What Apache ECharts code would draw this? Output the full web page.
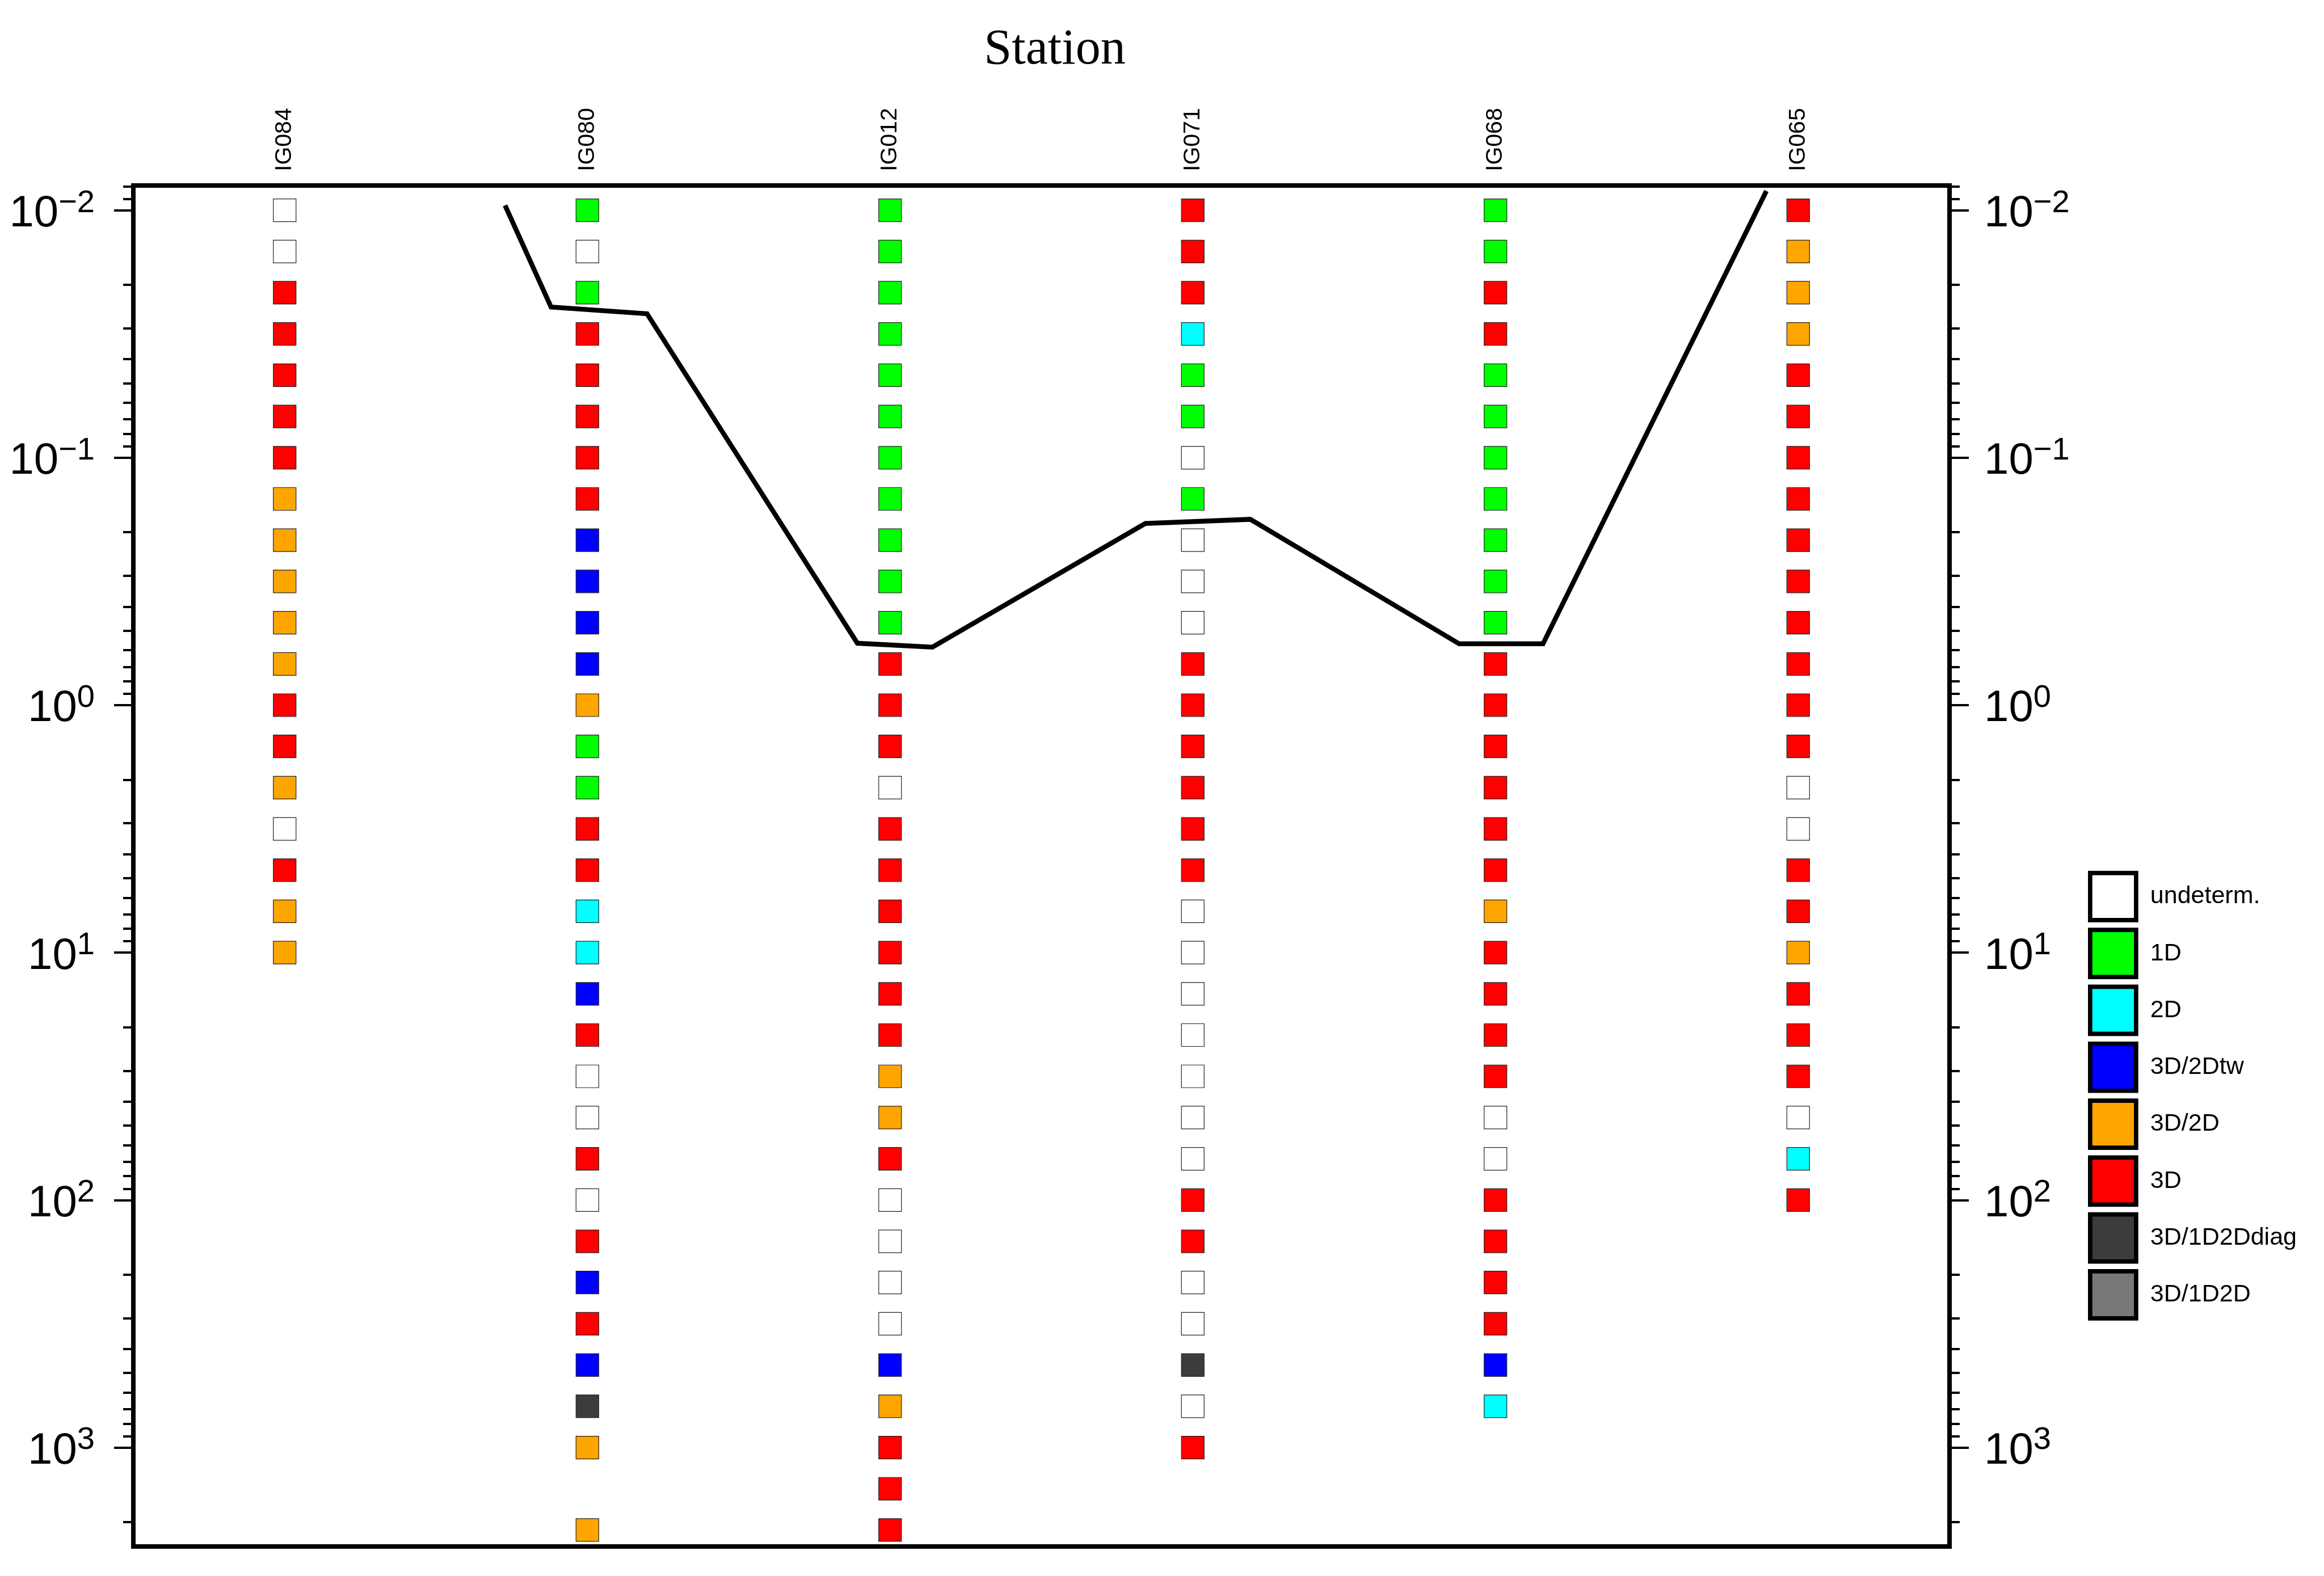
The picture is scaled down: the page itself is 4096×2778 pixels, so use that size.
<!DOCTYPE html>
<html><head><meta charset="utf-8">
<script src="https://cdn.jsdelivr.net/npm/echarts@6/dist/echarts.min.js"></script>
<style>html,body{margin:0;padding:0;background:#fff}#c{width:4096px;height:2778px}</style>
</head><body><div id="c"></div>
<script>
// ---------- data ----------
const stations = ['IG084', 'IG080', 'IG012', 'IG071', 'IG068', 'IG065'];
// periods (s) of the estimates, 6 per decade
const periods = [0.01, 0.01468, 0.02154, 0.03162, 0.04642, 0.06813,
  0.1, 0.1468, 0.2154, 0.3162, 0.4642, 0.6813,
  1, 1.468, 2.154, 3.162, 4.642, 6.813,
  10, 14.68, 21.54, 31.62, 46.42, 68.13,
  100, 146.8, 215.4, 316.2, 464.2, 681.3,
  1000, 1468, 2154];
const classNames = ['undeterm.', '1D', '2D', '3D/2Dtw', '3D/2D', '3D', '3D/1D2Ddiag', '3D/1D2D'];
const classCodes = ['u', '1', '2', 't', 'o', '3', 'd', 'g'];
const classColors = ['#ffffff', '#00ff00', '#00ffff', '#0000ff', '#ffa500', '#ff0000', '#3c3c3c', '#787878'];
// dimensionality per period index ('-' = no estimate)
const IG084 = ['u','u','3','3','3','3','3','o','o','o','o','o','3','3','o','u','3','o','o'];
const IG080 = ['1','u','1','3','3','3','3','3','t','t','t','t','o','1','1','3','3','2','2','t','3','u','u','3','u','3','t','3','t','d','o','-','o'];
const IG012 = ['1','1','1','1','1','1','1','1','1','1','1','3','3','3','u','3','3','3','3','3','3','o','o','3','u','u','u','u','t','o','3','3','3'];
const IG071 = ['3','3','3','2','1','1','u','1','u','u','u','3','3','3','3','3','3','u','u','u','u','u','u','u','3','3','u','u','d','u','3'];
const IG068 = ['1','1','3','3','1','1','1','1','1','1','1','3','3','3','3','3','3','o','3','3','3','3','u','u','3','3','3','3','t','2'];
const IG065 = ['3','o','o','o','3','3','3','3','3','3','3','3','3','3','u','u','3','3','o','3','3','3','u','2','3'];
const stationClasses = [IG084, IG080, IG012, IG071, IG068, IG065];
// black profile line (x in station units, period in s)
const lineX = [1.728, 1.880, 2.197, 2.892, 3.140, 3.843, 4.190, 4.880, 5.157, 5.895];
const linePeriod = [0.00956, 0.0246, 0.0262, 0.562, 0.583, 0.1845, 0.1774, 0.565, 0.565, 0.00836];
// axis ticks
const majorTicks = [0.01, 0.1, 1, 10, 100, 1000];
const minorTicks = [0.008, 0.009,
  0.02, 0.03, 0.04, 0.05, 0.06, 0.07, 0.08, 0.09,
  0.2, 0.3, 0.4, 0.5, 0.6, 0.7, 0.8, 0.9,
  2, 3, 4, 5, 6, 7, 8, 9,
  20, 30, 40, 50, 60, 70, 80, 90,
  200, 300, 400, 500, 600, 700, 800, 900,
  2000];
const yMin = Math.pow(10, -2.1), yMax = Math.pow(10, 3.4);

// ---------- chart ----------
const chart = echarts.init(document.getElementById('c'), null, {renderer: 'canvas'});
const SANS = '"Liberation Sans", Arial, Helvetica, sans-serif';

function expLabel(v) {
  const e = Math.round(Math.log10(v));
  return '{b|10}{s|' + (e < 0 ? '\u2212' + (-e) : String(e)) + '}';
}
const labelRich = {
  b: {fontSize: 78, lineHeight: 78, fontFamily: SANS, color: '#000', padding: [14, 0, 0, 0]},
  s: {fontSize: 56, lineHeight: 56, fontFamily: SANS, color: '#000', padding: [0, 0, 25, 0]}
};
function yAxisDef(pos, major) {
  return {
    type: 'log', logBase: 10, inverse: true, min: yMin, max: yMax, position: pos,
    axisLine: {show: false}, splitLine: {show: false}, minorTick: {show: false},
    axisTick: {show: true, inside: false, length: major ? 34 : 18,
      customValues: major ? majorTicks : minorTicks,
      lineStyle: {color: '#000', width: 4}},
    axisLabel: major ? {show: true, customValues: majorTicks, margin: pos === 'left' ? 68 : 61,
      formatter: expLabel, rich: labelRich} : {show: false}
  };
}

const series = classNames.map((name, ci) => {
  const data = [];
  stationClasses.forEach((arr, si) => {
    arr.forEach((c, k) => { if (c === classCodes[ci]) data.push([si + 1, periods[k]]); });
  });
  return {
    name: name, type: 'scatter', xAxisIndex: 1, yAxisIndex: 0,
    symbol: 'rect', symbolSize: 40, data: data,
    itemStyle: {color: classColors[ci], borderColor: '#222', borderWidth: 1.2, opacity: 1},
    emphasis: {disabled: true}, z: 3
  };
});
series.push({
  name: 'profile', type: 'line', xAxisIndex: 1, yAxisIndex: 0,
  data: lineX.map((x, i) => [x, linePeriod[i]]),
  showSymbol: false, symbol: 'none',
  lineStyle: {color: '#000', width: 8.5, join: 'miter'}, z: 4, emphasis: {disabled: true}
});

chart.setOption({
  animation: false,
  backgroundColor: '#fff',
  title: {text: 'Station', left: 1854, top: 40, textAlign: 'center',
    textStyle: {fontFamily: '"Liberation Serif", "Times New Roman", serif', fontWeight: 'normal', fontSize: 88, color: '#000'}},
  grid: {left: 235, top: 327, width: 3201, height: 2399, show: true,
    borderColor: '#000', borderWidth: 8, backgroundColor: 'transparent', containLabel: false, outerBoundsMode: 'none'},
  legend: {
    orient: 'vertical', left: 3675, top: 1530, icon: 'rect', itemWidth: 81, itemHeight: 83, itemGap: 9.6,
    selectedMode: false, data: classNames,
    itemStyle: {borderColor: '#000', borderWidth: 7.7},
    textStyle: {fontFamily: SANS, fontSize: 43, color: '#000', padding: [0, 0, 0, 20]}
  },
  xAxis: [
    {type: 'category', data: stations, position: 'top', boundaryGap: true,
      axisLine: {show: false}, axisTick: {show: false}, splitLine: {show: false},
      axisLabel: {rotate: -90, margin: 25, fontFamily: SANS, fontSize: 41, color: '#000', interval: 0}},
    {type: 'value', min: 0.5, max: 6.5, show: false, splitLine: {show: false}}
  ],
  yAxis: [yAxisDef('left', true), yAxisDef('left', false), yAxisDef('right', true), yAxisDef('right', false)],
  series: series
});
</script></body></html>
